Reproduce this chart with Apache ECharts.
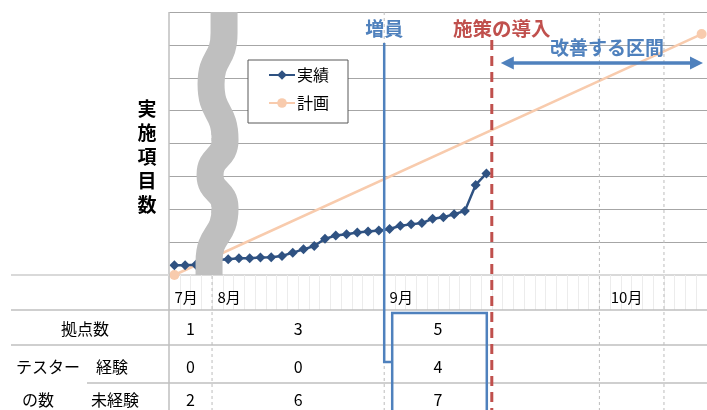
<!DOCTYPE html>
<html><head><meta charset="utf-8">
<script src="https://cdn.jsdelivr.net/npm/echarts@6/dist/echarts.min.js"></script>
<style>html,body{margin:0;padding:0;background:#fff;}#c{width:707px;height:410px;}</style>
</head><body><div id="c"></div>
<script>
// ---- data ----
const categories = [
  '7-1','7-2','7-3','7-4',
  '8-1','8-2','8-3','8-4','8-5','8-6','8-7','8-8','8-9','8-10','8-11','8-12','8-13','8-14','8-15','8-16',
  '9-1','9-2','9-3','9-4','9-5','9-6','9-7','9-8','9-9','9-10','9-11','9-12','9-13','9-14','9-15','9-16','9-17','9-18','9-19','9-20',
  '10-1','10-2','10-3','10-4','10-5','10-6','10-7','10-8','10-9','10-10'
];
const actual = [3.0,3.0,3.1,3.9,4.6,4.8,5.1,5.1,5.3,5.4,5.8,6.8,7.8,8.8,11.0,12.0,12.4,12.9,13.2,13.5,
                14.0,15.0,15.4,15.8,17.1,17.6,18.5,19.5,27.4,30.9];
const planPoints = [[0, 0], [49, 73.3]];
const dividerIdx = [4, 20, 40, 46];
const tableColBounds = [0, 4, 20, 30];
const sites = [1, 3, 5];
const experienced = [0, 0, 4];
const inexperienced = [2, 6, 7];

const FONT = '"Noto Sans CJK JP", "Noto Sans", sans-serif';
const BLUE = '#4f81bd', RED = '#c0504d';

const chart = echarts.init(document.getElementById('c'));
chart.setOption({
  animation: false,
  grid: { left: 169, right: -2, top: 12, bottom: 135 },
  legend: {
    data: ['実績', '計画'], orient: 'vertical', left: 248, top: 60,
    itemWidth: 26, itemHeight: 12, itemGap: 12, padding: [7, 19, 12, 20],
    borderColor: '#595959', borderWidth: 1, backgroundColor: '#fff',
    textStyle: { fontSize: 16, fontFamily: FONT, color: '#000', padding: [0, 0, 0, -3] }
  },
  xAxis: {
    type: 'category', data: categories, boundaryGap: true,
    axisLine: { lineStyle: { color: '#d9d9d9', width: 2 } },
    axisTick: { show: true, interval: 0, length: 35, lineStyle: { color: '#ececec', width: 1 } },
    axisLabel: {
      interval: 0, margin: 15, align: 'left', color: '#000', fontSize: 15, fontFamily: FONT,
      formatter: function (v) {
        const p = v.split('-');
        if (p[1] !== '1') return '';
        return p[0] === '10' ? '{o|' + p[0] + '月}' : p[0] + '月';
      },
      rich: { o: { padding: [0, 0, 0, 6], fontSize: 15, color: '#000', fontFamily: FONT } }
    },
    splitLine: { show: false }
  },
  yAxis: {
    type: 'value', min: 0, max: 80, interval: 10,
    axisLabel: { show: false }, axisLine: { show: false }, axisTick: { show: false },
    splitLine: { lineStyle: { color: '#a6a6a6', width: 1 } }
  },
  series: [
    { name: '計画', type: 'line', data: planPoints, connectNulls: true, symbol: 'circle', symbolSize: 10,
      itemStyle: { color: '#f8cbad' }, lineStyle: { color: '#f8cbad', width: 2.5 }, z: 2 },
    { name: '実績', type: 'line', data: actual, symbol: 'diamond', symbolSize: 10,
      itemStyle: { color: '#2f5282' }, lineStyle: { color: '#2f5282', width: 2.5 }, z: 3 }
  ]
});

const cx = i => chart.convertToPixel({ xAxisIndex: 0 }, i);
const bw = cx(1) - cx(0);
const bx = b => cx(0) + (b - 0.5) * bw;
const yTop = chart.convertToPixel({ yAxisIndex: 0 }, 80);
const yZero = chart.convertToPixel({ yAxisIndex: 0 }, 0);
const BOTTOM = 410;
const tableTop = yZero + 35;
const rowLines = [tableTop, tableTop + 35, tableTop + 73];
const rowY = [tableTop + 19, tableTop + 57, tableTop + 90];

const g = [];
// left border
g.push({ type: 'line', z: 40, shape: { x1: bx(0), y1: yTop, x2: bx(0), y2: BOTTOM }, style: { stroke: '#bfbfbf', lineWidth: 1.5 } });
// axis line extension
g.push({ type: 'line', z: 40, shape: { x1: 11, y1: yZero, x2: bx(0), y2: yZero }, style: { stroke: '#d9d9d9', lineWidth: 2 } });
// dashed dividers
dividerIdx.forEach(b => g.push({ type: 'line', z: 41, shape: { x1: bx(b), y1: yTop, x2: bx(b), y2: BOTTOM }, style: { stroke: '#bdbdbd', lineWidth: 1, lineDash: [3, 3] } }));
// table lines
g.push({ type: 'line', z: 40, shape: { x1: 11, y1: rowLines[0], x2: 707, y2: rowLines[0] }, style: { stroke: '#bfbfbf', lineWidth: 1.5 } });
g.push({ type: 'line', z: 40, shape: { x1: 11, y1: rowLines[1], x2: 707, y2: rowLines[1] }, style: { stroke: '#bfbfbf', lineWidth: 1.5 } });
g.push({ type: 'line', z: 40, shape: { x1: 87, y1: rowLines[2], x2: 707, y2: rowLines[2] }, style: { stroke: '#bfbfbf', lineWidth: 1.5 } });
// row labels
const tstyle = (t, x, y) => ({ type: 'text', z: 45, x: x, y: y, style: { text: t, fontSize: 16, fontFamily: FONT, fill: '#000', align: 'center', verticalAlign: 'middle' } });
g.push(tstyle('拠点数', 85, rowY[0]));
g.push(tstyle('テスター', 48, rowY[1]));
g.push(tstyle('経験', 112, rowY[1]));
g.push(tstyle('の数', 38, rowY[2]));
g.push(tstyle('未経験', 115, rowY[2]));
[sites, experienced, inexperienced].forEach((arr, r) => {
  arr.forEach((v, c) => {
    const xc = (bx(tableColBounds[c]) + bx(tableColBounds[c + 1])) / 2;
    g.push(tstyle(String(v), xc, rowY[r]));
  });
});
// wave break (decorative axis break), built from vertical-tangent bezier segments
const W = bx(4);
const X = d => W + d;
const waveStyle = { stroke: '#bfbfbf', lineWidth: 27, fill: null, lineCap: 'butt' };
const wavePts = [[12, yTop], [12, 33], [-1, 84], [13, 140], [-2, 175], [13, 208], [-3, 262], [-3, yZero]];
for (let k = 0; k < wavePts.length - 1; k++) {
  const [d1, y1] = wavePts[k], [d2, y2] = wavePts[k + 1];
  const h = (y2 - y1) * 0.55;
  g.push({ type: 'bezierCurve', z: 50, shape: { x1: X(d1), y1: y1, cpx1: X(d1), cpy1: y1 + h, cpx2: X(d2), cpy2: y2 - h, x2: X(d2), y2: y2 }, style: waveStyle });
}
// blue annotation (増員)
const b20 = bx(20), b30 = bx(30);
g.push({ type: 'polyline', z: 60, shape: { points: [[b20, 43], [b20, 362], [b20 + 8, 362]] }, style: { stroke: BLUE, lineWidth: 2.5, fill: null } });
g.push({ type: 'polyline', z: 60, shape: { points: [[b20 + 8, 416], [b20 + 8, 313], [b30 - 5, 313], [b30 - 5, 416]] }, style: { stroke: BLUE, lineWidth: 2.5, fill: null } });
// red dashed
g.push({ type: 'line', z: 61, shape: { x1: b30, y1: 40, x2: b30, y2: BOTTOM }, style: { stroke: RED, lineWidth: 3, lineDash: [10, 6] } });
// labels
const bold = (t, x, y, fill, fs) => ({ type: 'text', z: 62, x: x, y: y, style: { text: t, fontSize: fs, fontWeight: 'bold', fontFamily: FONT, fill: fill, align: 'center', verticalAlign: 'middle' } });
g.push(bold('増員', b20, 29, BLUE, 19));
g.push(bold('施策の導入', b30 + 10, 29, RED, 19.5));
g.push(bold('改善する区間', 607, 48, BLUE, 19));
// double arrow
const ay = 63, ax1 = b30 + 9, ax2 = 703;
g.push({ type: 'line', z: 62, shape: { x1: ax1 + 10, y1: ay, x2: ax2 - 10, y2: ay }, style: { stroke: BLUE, lineWidth: 3.5 } });
g.push({ type: 'polygon', z: 62, shape: { points: [[ax1, ay], [ax1 + 13, ay - 6.5], [ax1 + 13, ay + 6.5]] }, style: { fill: BLUE } });
g.push({ type: 'polygon', z: 62, shape: { points: [[ax2, ay], [ax2 - 13, ay - 6.5], [ax2 - 13, ay + 6.5]] }, style: { fill: BLUE } });
// y title
g.push({ type: 'text', z: 62, x: 147, y: 97, style: { text: '実\n施\n項\n目\n数', fontSize: 19, lineHeight: 24, fontWeight: 'bold', fontFamily: FONT, fill: '#000', align: 'center', verticalAlign: 'top' } });

chart.setOption({ graphic: { elements: g } });
</script>
</body></html>
